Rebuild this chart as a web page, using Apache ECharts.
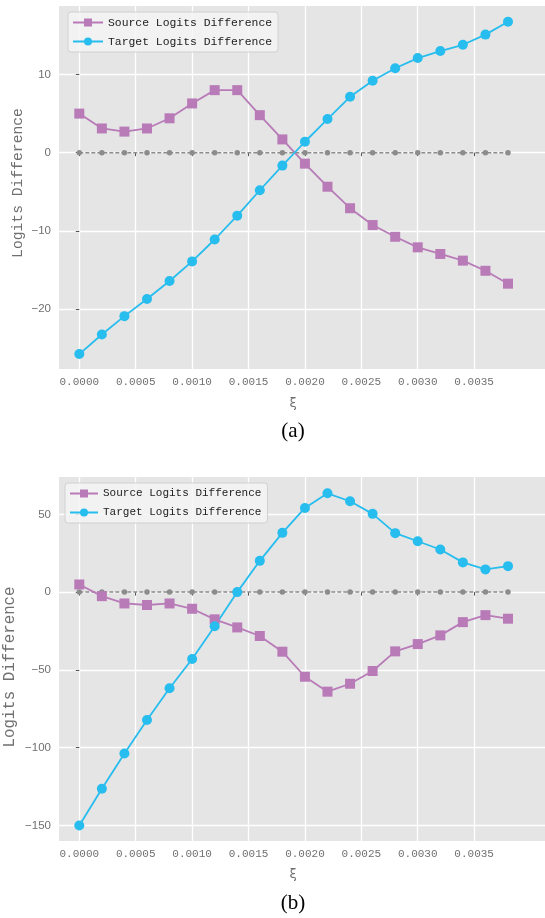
<!DOCTYPE html>
<html>
<head>
<meta charset="utf-8">
<script src="https://cdn.jsdelivr.net/npm/echarts@6/dist/echarts.min.js"></script>
<style>
html,body{margin:0;padding:0;background:#fff;}
#chart{width:545px;height:918px;}
</style>
</head>
<body>
<div id="chart"></div>
<script>
// ---- data ----
const xs = [0, 0.0002, 0.0004, 0.0006, 0.0008, 0.0010, 0.0012, 0.0014, 0.0016, 0.0018,
            0.0020, 0.0022, 0.0024, 0.0026, 0.0028, 0.0030, 0.0032, 0.0034, 0.0036, 0.0038];
const srcA = [5.0, 3.1, 2.7, 3.1, 4.4, 6.3, 8.0, 8.0, 4.8, 1.7,
              -1.4, -4.35, -7.1, -9.25, -10.75, -12.1, -12.95, -13.8, -15.1, -16.75];
const tgtA = [-25.75, -23.25, -20.9, -18.7, -16.4, -13.9, -11.1, -8.05, -4.8, -1.65,
              1.4, 4.3, 7.15, 9.2, 10.8, 12.1, 13.0, 13.8, 15.1, 16.75];
const srcB = [4.9, -2.6, -7.3, -8.3, -7.3, -10.7, -17.5, -22.7, -28.2, -38.3,
              -54.4, -64.0, -58.9, -50.7, -38.1, -33.4, -27.8, -19.3, -14.8, -17.1];
const tgtB = [-150.0, -126.4, -103.8, -82.2, -61.8, -43.0, -22.0, 0.0, 20.1, 38.1,
              54.1, 63.5, 58.4, 50.3, 37.9, 32.7, 27.4, 19.1, 14.6, 16.7];
const zeros = [0, 0, 0, 0, 0, 0, 0, 0, 0, 0, 0, 0, 0, 0, 0, 0, 0, 0, 0, 0];
const xTicks = [0, 0.0005, 0.0010, 0.0015, 0.0020, 0.0025, 0.0030, 0.0035];
const yTicksA = [-20, -10, 0, 10];
const yTicksB = [-150, -100, -50, 0, 50];
const seriesNames = ['Source Logits Difference', 'Target Logits Difference'];
const yLabel = 'Logits Difference';
const xLabel = 'ξ';
const panelLabels = ['(a)', '(b)'];

// ---- styling ----
const SRC = '#b87bb8', TGT = '#27bdee', ZERO = '#8c8c8c', BG = '#e5e5e5';
const MONO = '"Liberation Mono","DejaVu Sans Mono",monospace';
const SANS = '"Liberation Sans",Arial,sans-serif';
const TXT = '#707070';
const pair = (a, b) => a.map((v, i) => [v, b[i]]);
const yfmt = v => (v < 0 ? '\u2212' + Math.abs(v) : String(v));

const grids = [
  {left: 59, right: 0, top: 6, height: 363, show: true, backgroundColor: BG, borderWidth: 0},
  {left: 59, right: 0, top: 477, height: 364, show: true, backgroundColor: BG, borderWidth: 0}
];
const yRanges = [[-27.66, 18.76], [-160, 74]];
const yTicks = [yTicksA, yTicksB];

function xAxis(gi) {
  return {
    type: 'value', gridIndex: gi, min: -0.00018, max: 0.004128,
    axisLine: {show: false},
    axisTick: {show: true, length: 3.5, customValues: xTicks, lineStyle: {color: '#555', width: 1}},
    axisLabel: {customValues: xTicks, formatter: v => v.toFixed(4), color: TXT,
                fontFamily: MONO, fontSize: 11, margin: 8},
    splitLine: {show: true, lineStyle: {color: '#ffffff', width: 1.3}}
  };
}
function yAxis(gi) {
  return {
    type: 'value', gridIndex: gi, min: yRanges[gi][0], max: yRanges[gi][1],
    axisLine: {show: false},
    axisTick: {show: true, length: 3.5, customValues: yTicks[gi], lineStyle: {color: '#555', width: 1}},
    axisLabel: {customValues: yTicks[gi], formatter: yfmt, color: TXT,
                fontFamily: SANS, fontSize: 11.5, margin: 8},
    splitLine: {show: true, lineStyle: {color: '#ffffff', width: 1.3}}
  };
}
function zeroSeries(gi) {
  return {
    name: 'zero', type: 'line', xAxisIndex: gi, yAxisIndex: gi, data: pair(xs, zeros),
    symbol: 'circle', symbolSize: 5.5, z: 2, silent: true,
    lineStyle: {color: ZERO, width: 1.5, type: [4, 2]},
    itemStyle: {color: ZERO}
  };
}
function mainSeries(gi, name, vals, color, sym, size) {
  return {
    name: name, type: 'line', xAxisIndex: gi, yAxisIndex: gi, data: pair(xs, vals),
    symbol: sym, symbolSize: size, z: 3,
    lineStyle: {color: color, width: 1.8},
    itemStyle: {color: color}
  };
}
function legend(gi, left, top, fs, iw) {
  return {
    data: seriesNames, orient: 'vertical', left: left, top: top,
    itemWidth: iw, itemHeight: 10, itemGap: 8, itemTextGap: 9,
    padding: [5, 6, 5, 4],
    backgroundColor: 'rgba(244,244,244,0.85)', borderColor: '#d0d0d0', borderWidth: 1, borderRadius: 3,
    textStyle: {fontFamily: MONO, fontSize: fs, color: '#222'},
    selectedMode: false
  };
}

const chart = echarts.init(document.getElementById('chart'), null, {renderer: 'canvas'});
chart.setOption({
  animation: false,
  backgroundColor: '#ffffff',
  grid: grids,
  xAxis: [xAxis(0), xAxis(1)],
  yAxis: [yAxis(0), yAxis(1)],
  legend: [legend(0, 68, 12, 11.4, 30), legend(1, 65, 483, 11, 28)],
  series: [
    zeroSeries(0),
    mainSeries(0, seriesNames[0], srcA, SRC, 'rect', 10),
    mainSeries(0, seriesNames[1], tgtA, TGT, 'circle', 10),
    zeroSeries(1),
    mainSeries(1, seriesNames[0], srcB, SRC, 'rect', 10),
    mainSeries(1, seriesNames[1], tgtB, TGT, 'circle', 10)
  ],
  graphic: [
    {type: 'text', x: 18, y: 183, rotation: Math.PI / 2, style: {text: yLabel, fill: TXT,
      font: '14.7px ' + MONO, align: 'center', verticalAlign: 'middle'}},
    {type: 'text', x: 10, y: 667, rotation: Math.PI / 2, style: {text: yLabel, fill: TXT,
      font: '15.8px ' + MONO, align: 'center', verticalAlign: 'middle'}},
    {type: 'text', x: 293, y: 404, style: {text: xLabel, fill: TXT,
      font: '13px "DejaVu Sans",sans-serif', align: 'center', verticalAlign: 'middle'}},
    {type: 'text', x: 293, y: 875, style: {text: xLabel, fill: TXT,
      font: '13px "DejaVu Sans",sans-serif', align: 'center', verticalAlign: 'middle'}},
    {type: 'text', x: 293, y: 431, style: {text: panelLabels[0], fill: '#000',
      font: '21px "Liberation Serif",serif', align: 'center', verticalAlign: 'middle'}},
    {type: 'text', x: 293, y: 903, style: {text: panelLabels[1], fill: '#000',
      font: '21px "Liberation Serif",serif', align: 'center', verticalAlign: 'middle'}}
  ]
});
</script>
</body>
</html>
